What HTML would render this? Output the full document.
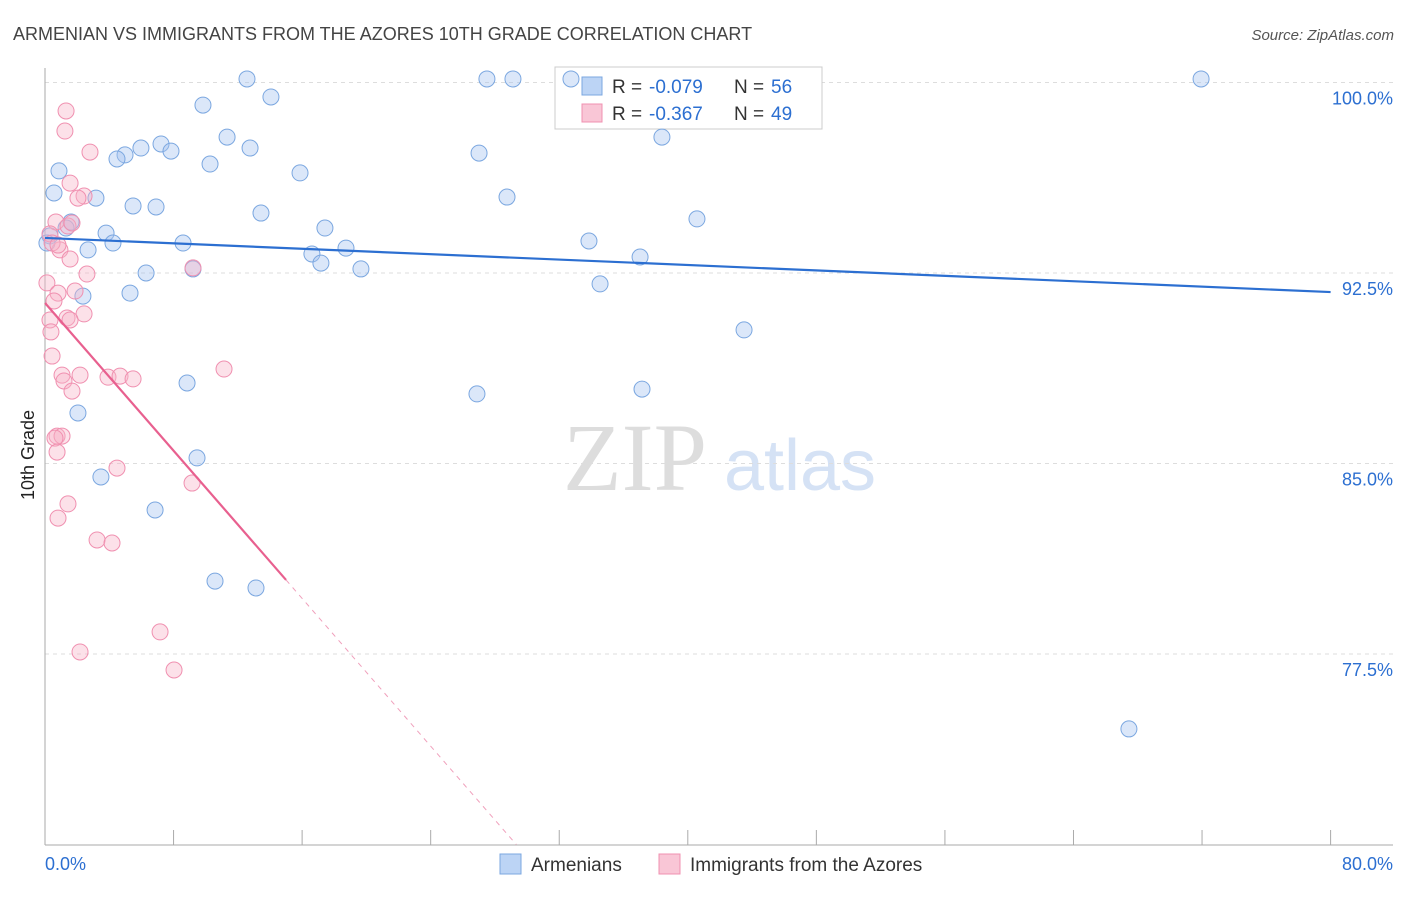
<!DOCTYPE html>
<html><head><meta charset="utf-8"><style>
body{margin:0;background:#fff;font-family:"Liberation Sans",sans-serif}
</style></head><body>
<svg id="c" width="1406" height="892" xmlns="http://www.w3.org/2000/svg" style="font-family:'Liberation Sans',sans-serif">
<text x="13" y="40" font-size="18" fill="#444">ARMENIAN VS IMMIGRANTS FROM THE AZORES 10TH GRADE CORRELATION CHART</text>
<text x="1394" y="40" font-size="15" fill="#555" font-style="italic" text-anchor="end">Source: ZipAtlas.com</text>
<g>
<text x="635" y="490" font-size="96" fill="#ddd" font-family="Liberation Serif,serif" text-anchor="middle">ZIP</text>
<text x="800" y="490" font-size="72" fill="#d5e2f5" text-anchor="middle">atlas</text>
</g>
<text x="34" y="455" font-size="18" fill="#222" transform="rotate(-90 34 455)" text-anchor="middle">10th Grade</text>
<g id="grid"></g><g id="axes"></g>
<g>
<rect x="555" y="67" width="267" height="62" fill="#fff" stroke="#ccc"/>
<rect x="582" y="77" width="20" height="18" fill="#bcd4f5" stroke="#7ba7e0"/>
<rect x="582" y="104" width="20" height="18" fill="#f9c6d6" stroke="#f090b0"/>
<text x="612" y="93" font-size="19" fill="#333">R =</text>
<text x="649" y="93" font-size="19" fill="#2c6fd1">-0.079</text>
<text x="734" y="93" font-size="19" fill="#333">N =</text>
<text x="771" y="93" font-size="19" fill="#2c6fd1">56</text>
<text x="612" y="120" font-size="19" fill="#333">R =</text>
<text x="649" y="120" font-size="19" fill="#2c6fd1">-0.367</text>
<text x="734" y="120" font-size="19" fill="#333">N =</text>
<text x="771" y="120" font-size="19" fill="#2c6fd1">49</text>
</g>
<g id="pts"></g><g id="trend"></g>
<g>
<rect x="500" y="854" width="21" height="20" fill="#bcd4f5" stroke="#7ba7e0"/>
<text x="531" y="871" font-size="19" fill="#333">Armenians</text>
<rect x="659" y="854" width="21" height="20" fill="#f9c6d6" stroke="#f090b0"/>
<text x="690" y="871" font-size="19" fill="#333">Immigrants from the Azores</text>
</g>
</svg>
<script>
const yTicks=[100,92.5,85,77.5];
const yTickLabels=["100.0%","92.5%","85.0%","77.5%"];
const blueX=[12.57,27.5,29.12,32.73,71.94,9.83,14.06,11.33,12.76,7.22,5.97,7.84,4.98,4.48,10.27,0.87,15.87,27.01,38.39,0.56,3.17,5.48,6.91,13.44,28.75,40.57,1.62,1.31,17.42,3.80,0.31,4.23,2.68,8.59,18.73,16.61,17.17,33.85,37.03,6.29,19.66,9.21,34.54,5.29,2.36,43.50,8.84,26.88,37.15,2.05,9.46,3.48,6.85,10.58,13.13,67.45,0.12];
const blueY=[100.14,100.14,100.14,100.14,100.14,99.11,99.43,97.85,97.42,97.58,97.42,97.30,97.15,96.99,96.79,96.52,96.44,97.22,97.85,95.65,95.45,95.14,95.10,94.86,95.49,94.63,94.51,94.27,94.27,94.07,93.96,93.68,93.41,93.68,93.48,93.25,92.89,93.76,93.13,92.50,92.66,92.66,92.07,91.71,91.59,90.26,88.17,87.74,87.93,86.99,85.22,84.47,83.17,80.37,80.10,74.55,93.68];
const pinkX=[1.31,1.24,2.80,1.56,2.43,2.05,0.68,1.43,1.68,0.31,0.93,1.56,2.61,9.21,0.12,0.81,1.87,0.56,0.31,1.37,2.43,1.56,0.37,0.44,1.06,2.18,3.92,4.67,5.48,1.18,1.68,11.14,0.75,1.06,0.62,0.75,4.48,9.15,1.43,0.81,3.24,4.17,7.16,2.18,8.03,0.44,0.81];
const pinkY=[98.88,98.09,97.26,96.04,95.53,95.45,94.51,94.35,94.47,94.04,93.41,93.05,92.46,92.70,92.11,91.71,91.79,91.40,90.65,90.73,90.89,90.65,90.18,89.23,88.48,88.48,88.40,88.44,88.33,88.25,87.85,88.72,86.08,86.08,86.0,85.45,84.82,84.23,83.41,82.85,81.99,81.87,78.37,77.58,76.87,93.68,93.60];
const blueTrend=[93.88,91.75];
const pinkTrend=[91.32,-0.727];
const NS="http://www.w3.org/2000/svg";
const X=v=>45+v*16.07, Y=v=>82.5+(100-v)*25.4;
function mk(t,a,p){const e=document.createElementNS(NS,t);for(const k in a)e.setAttribute(k,a[k]);p.appendChild(e);return e;}
const grid=document.getElementById('grid');
yTicks.forEach((t,i)=>{
 const l=mk('line',{x1:45,x2:1393,y1:Y(t),y2:Y(t),stroke:'#ddd','stroke-dasharray':'4,4'},grid);
 
 
 const tx=mk('text',{x:1393,y:Y(t)+22,'font-size':18,fill:'#2c6fd1','text-anchor':'end'},grid);
 tx.textContent=yTickLabels[i];
 
 
});
const ax=document.getElementById('axes');
mk('line',{x1:45,x2:45,y1:68,y2:845,stroke:'#aaa'},ax);
mk('line',{x1:45,x2:1393,y1:845,y2:845,stroke:'#aaa'},ax);
for(let i=0;i<=10;i++){const l=mk('line',{x1:X(i*8),x2:X(i*8),y1:830,y2:845,stroke:'#aaa'},ax);
 
 }
const x0=mk('text',{x:45,y:870,'font-size':18,fill:'#2c6fd1'},ax);x0.textContent='0.0%';


const x1=mk('text',{x:1393,y:870,'font-size':18,fill:'#2c6fd1','text-anchor':'end'},ax);x1.textContent='80.0%';


const pts=document.getElementById('pts');
blueX.forEach((v,i)=>{const c=mk('circle',{cx:X(v),cy:Y(blueY[i]),r:8,fill:'rgba(164,196,240,0.4)',stroke:'#7ba7e0','stroke-width':1},pts);
 
 });
pinkX.forEach((v,i)=>{const c=mk('circle',{cx:X(v),cy:Y(pinkY[i]),r:8,fill:'rgba(247,180,200,0.4)',stroke:'#f090b0','stroke-width':1},pts);
 
 });
const tr=document.getElementById('trend');
const b=mk('line',{x1:X(0),y1:Y(blueTrend[0]),x2:X(80),y2:Y(blueTrend[1]),stroke:'#2c6fd1','stroke-width':2.2},tr);


const p=mk('line',{x1:X(0),y1:Y(pinkTrend[0]),x2:X(15),y2:Y(pinkTrend[0]+15*pinkTrend[1]),stroke:'#e8608f','stroke-width':2.2},tr);


const xe=(70-pinkTrend[0])/pinkTrend[1];
const pd=mk('line',{x1:X(15),y1:Y(pinkTrend[0]+15*pinkTrend[1]),x2:X(xe),y2:Y(70),stroke:'#f0a0bc','stroke-width':1,'stroke-dasharray':'5,5'},tr);


</script>
</body></html>
